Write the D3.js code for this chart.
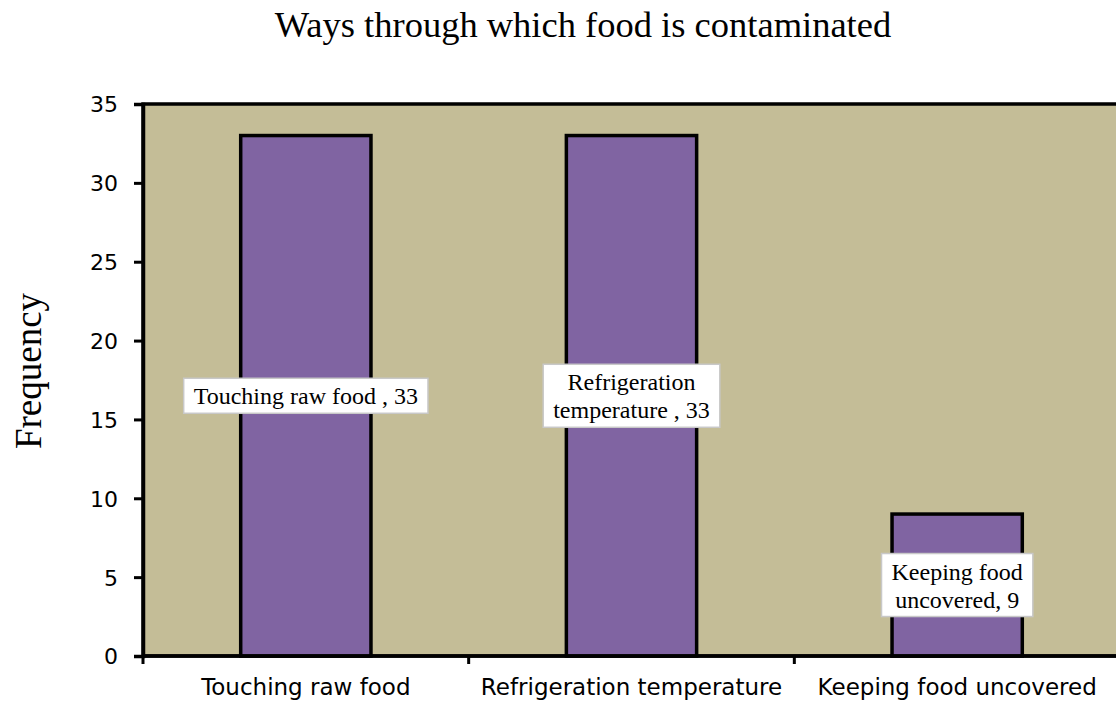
<!DOCTYPE html>
<html>
<head>
<meta charset="utf-8">
<script src="https://cdn.jsdelivr.net/npm/d3@7"></script>
<style>
  body { margin: 0; background: #fff; }
  svg { display: block; }
</style>
</head>
<body>
<div id="chart"></div>
<script>
// chart data
const categories = ['Touching raw food', 'Refrigeration temperature', 'Keeping food uncovered'];
const values = [33, 33, 9];
const labelLines = [
  ['Touching raw food , 33'],
  ['Refrigeration', 'temperature , 33'],
  ['Keeping food', 'uncovered, 9']
];
const yTicks = [0, 5, 10, 15, 20, 25, 30, 35];

const width = 1116, height = 707;
const margin = { top: 104, right: -4, bottom: 51, left: 143 };
const innerW = width - margin.left - margin.right;
const innerH = height - margin.top - margin.bottom;
const serif = '"Liberation Serif", "Times New Roman", serif';
const sans = '"DejaVu Sans", Verdana, sans-serif';

const svg = d3.select('#chart').append('svg')
  .attr('width', width)
  .attr('height', height);

svg.append('text')
  .attr('x', 583)
  .attr('y', 37)
  .attr('text-anchor', 'middle')
  .style('font-family', serif)
  .style('font-size', '36.5px')
  .text('Ways through which food is contaminated');

svg.append('text')
  .attr('transform', 'translate(41,371) rotate(-90)')
  .attr('text-anchor', 'middle')
  .style('font-family', serif)
  .style('font-size', '37px')
  .text('Frequency');

const g = svg.append('g')
  .attr('transform', 'translate(' + margin.left + ',' + margin.top + ')');

const x = d3.scaleBand().domain(categories).range([0, innerW]).padding(0);
const y = d3.scaleLinear().domain([0, 35]).range([innerH, 0]);
const barW = x.bandwidth() * 0.4;

// plot background
g.append('rect')
  .attr('width', innerW)
  .attr('height', innerH)
  .attr('fill', '#C4BD97')
  .attr('stroke', '#000')
  .attr('stroke-width', 3.5);

// bars
g.selectAll('.bar')
  .data(values)
  .enter().append('rect')
  .attr('class', 'bar')
  .attr('x', (d, i) => x(categories[i]) + (x.bandwidth() - barW) / 2)
  .attr('y', d => y(d))
  .attr('width', barW)
  .attr('height', d => y(0) - y(d))
  .attr('fill', '#8064A2')
  .attr('stroke', '#000')
  .attr('stroke-width', 3.5);

// y axis
const yAxis = g.append('g')
  .call(d3.axisLeft(y).tickValues(yTicks).tickSize(9).tickPadding(16));
yAxis.selectAll('text')
  .style('font-family', sans)
  .style('font-size', '22px')
  .attr('dy', '0.36em')
  .attr('fill', '#000');
yAxis.selectAll('line').attr('stroke', '#000').attr('stroke-width', 3);
yAxis.select('.domain').attr('stroke', '#000').attr('stroke-width', 3.5);

// x axis with ticks at band boundaries
const xAxis = g.append('g')
  .attr('transform', 'translate(0,' + innerH + ')');
xAxis.append('line')
  .attr('x1', 0).attr('x2', innerW)
  .attr('stroke', '#000').attr('stroke-width', 3.5);
const bounds = categories.map(c => x(c)).concat([x(categories[categories.length - 1]) + x.bandwidth()]);
xAxis.selectAll('.xt')
  .data(bounds)
  .enter().append('line')
  .attr('x1', d => d).attr('x2', d => d)
  .attr('y1', 0).attr('y2', 8)
  .attr('stroke', '#000').attr('stroke-width', 3);
xAxis.selectAll('.xl')
  .data(categories)
  .enter().append('text')
  .attr('x', d => x(d) + x.bandwidth() / 2)
  .attr('y', 39)
  .attr('text-anchor', 'middle')
  .style('font-family', sans)
  .style('font-size', '23px')
  .text(d => d);

// data labels, centred at half the bar height
const lineH = 28;
const labels = g.selectAll('.lbl')
  .data(values)
  .enter().append('g')
  .attr('class', 'lbl')
  .attr('transform', (d, i) => 'translate(' + (x(categories[i]) + x.bandwidth() / 2) + ',' + y(d / 2) + ')');

labels.each(function(d, i) {
  const lg = d3.select(this);
  const lines = labelLines[i];
  const rect = lg.append('rect')
    .attr('fill', '#fff')
    .attr('stroke', '#c8c8c8')
    .attr('stroke-width', 1.5);
  const t = lg.append('text')
    .attr('text-anchor', 'middle')
    .style('font-family', serif)
    .style('font-size', '24px')
    .attr('fill', '#000');
  lines.forEach((ln, k) => {
    t.append('tspan')
      .attr('x', 0)
      .attr('y', (k - (lines.length - 1) / 2) * lineH + 8.5)
      .text(ln);
  });
  const bb = t.node().getBBox();
  const boxW = bb.width + 20;
  const boxH = lines.length * lineH + 7;
  rect.attr('x', -boxW / 2)
    .attr('y', -boxH / 2)
    .attr('width', boxW)
    .attr('height', boxH);
});
</script>
</body>
</html>
